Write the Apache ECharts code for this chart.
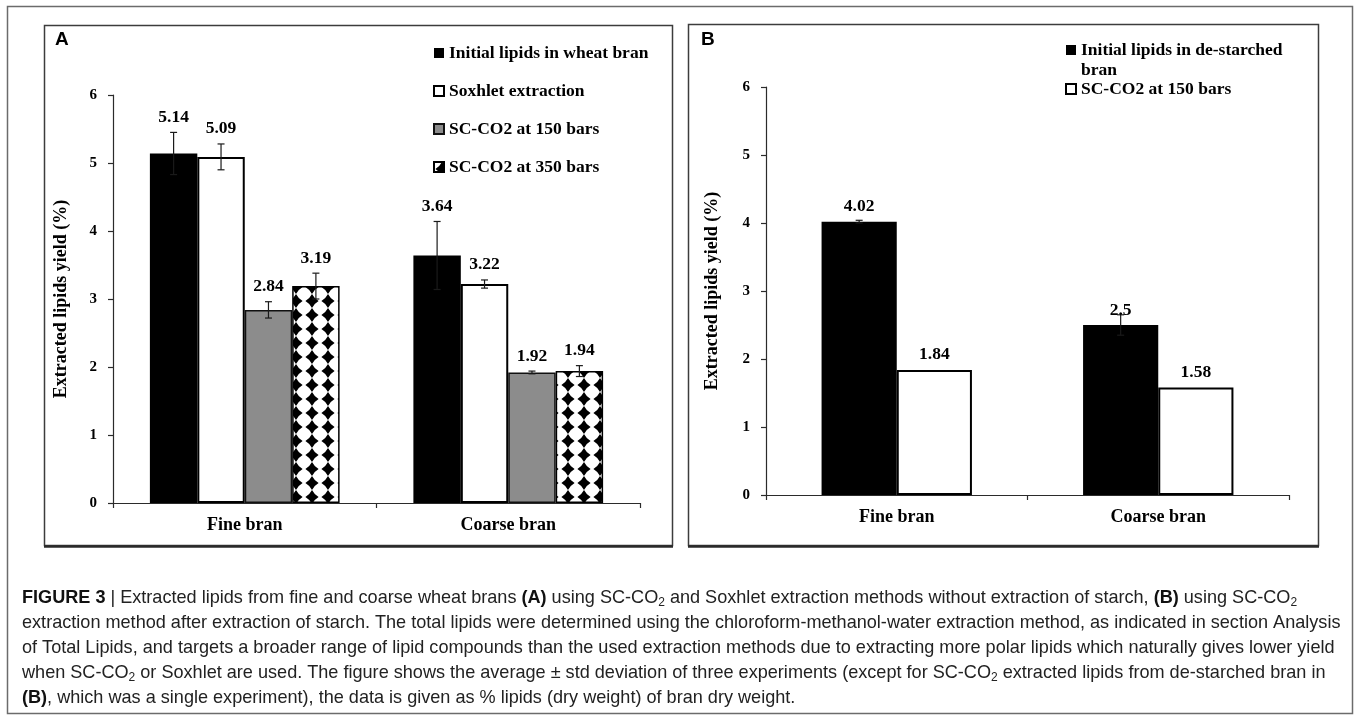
<!DOCTYPE html>
<html>
<head>
<meta charset="utf-8">
<script src="https://cdn.jsdelivr.net/npm/echarts@6/dist/echarts.min.js"></script>
<style>
  html, body { margin: 0; padding: 0; background: #ffffff; }
  #chart { width: 1357px; height: 716px; }
</style>
</head>
<body>
<div id="chart"></div>
<script>
// ---- data -------------------------------------------------------------
const categories = ['Fine bran', 'Coarse bran'];

// Panel A: wheat bran without starch removal
const namesA = ['Initial lipids in wheat bran', 'Soxhlet extraction', 'SC-CO2 at 150 bars', 'SC-CO2 at 350 bars'];
const initialWheat = [5.14, 3.64];
const soxhlet = [5.09, 3.22];
const sc150 = [2.84, 1.92];
const sc350 = [3.19, 1.94];
const errInitialWheat = [0.31, 0.50];
const errSoxhlet = [0.19, 0.06];
const errSc150 = [0.12, 0.02];
const errSc350 = [0.19, 0.08];

// Panel B: de-starched bran
const namesB = ['Initial lipids in de-starched bran', 'SC-CO2 at 150 bars (de-starched)'];
// leading blank line keeps the icon level with the first text line
const legendTextB = ['\nInitial lipids in de-starched\nbran', 'SC-CO2 at 150 bars'];
const initialDestarched = [4.02, 2.5];
const sc150Destarched = [1.84, 1.58];
const errInitialDestarched = [0.02, 0.15];
const errSc150Destarched = [null, null];

const yTickMin = 0, yTickMax = 6, yTickStep = 1;

// ---- styling helpers ---------------------------------------------------
const SERIF = '"Liberation Serif", "Times New Roman", serif';
const SANS = '"Liberation Sans", Arial, sans-serif';

// diamond-lattice fill for the 350 bar series
function diamondPattern() {
  const w = 16, h = 14;
  const c = document.createElement('canvas');
  c.width = w; c.height = h;
  const g = c.getContext('2d');
  g.fillStyle = '#ffffff';
  g.fillRect(0, 0, w, h);
  g.fillStyle = '#000000';
  const cx = w / 2, cy = h / 2, rx = 6.6, ry = 7;
  const k = 0.3;
  function ctrl(ax, ay, bx, by) {
    const mx = (ax + bx) / 2, my = (ay + by) / 2;
    return [mx + (cx - mx) * k, my + (cy - my) * k];
  }
  const pts = [[cx, cy - ry], [cx + rx, cy], [cx, cy + ry], [cx - rx, cy]];
  g.beginPath();
  g.moveTo(pts[0][0], pts[0][1]);
  for (let i = 0; i < 4; i++) {
    const a = pts[i], b = pts[(i + 1) % 4];
    const cp = ctrl(a[0], a[1], b[0], b[1]);
    g.quadraticCurveTo(cp[0], cp[1], b[0], b[1]);
  }
  g.closePath();
  g.fill();
  return { image: c, repeat: 'repeat' };
}

const styleBlack = { color: '#000000', borderColor: '#000000', borderWidth: 0 };
const styleWhite = { color: '#ffffff', borderColor: '#000000', borderWidth: 2 };
const styleGray = { color: '#8c8c8c', borderColor: '#111111', borderWidth: 1.5 };
const stylePattern = { color: diamondPattern(), borderColor: '#000000', borderWidth: 1.5 };

const GAP_A = 0.28, GAP_B = 0.425;

// error bars plus value labels, placed on the same band layout as the bars
function errorSeries(gridIdx, nBars, gapRatio, rows, labelFromErrTop) {
  return {
    type: 'custom',
    xAxisIndex: gridIdx,
    yAxisIndex: gridIdx,
    z: 10,
    silent: true,
    clip: false,
    data: rows,
    encode: { x: 0, y: 2 },
    renderItem: function (params, api) {
      const cat = api.value(0), k = api.value(1), val = api.value(2), err = api.value(3);
      const band = api.size([1, 0])[0];
      const groupW = band * (1 - gapRatio);
      const barW = groupW / nBars;
      const base = api.coord([cat, val]);
      const x = base[0] - groupW / 2 + (k + 0.5) * barW;
      const children = [];
      const hasErr = err !== null && !isNaN(err) && err > 0;
      let topY = base[1];
      if (hasErr) {
        const yHi = api.coord([cat, val + err])[1];
        const yLo = api.coord([cat, val - err])[1];
        const cap = 3.5;
        const ls = { stroke: '#1a1a1a', lineWidth: 1.2 };
        children.push({ type: 'line', shape: { x1: x, y1: yHi, x2: x, y2: yLo }, style: ls });
        children.push({ type: 'line', shape: { x1: x - cap, y1: yHi, x2: x + cap, y2: yHi }, style: ls });
        children.push({ type: 'line', shape: { x1: x - cap, y1: yLo, x2: x + cap, y2: yLo }, style: ls });
        if (labelFromErrTop) topY = yHi;
      }
      children.push({
        type: 'text',
        style: {
          text: String(val),
          x: x,
          y: topY - 15,
          align: 'center',
          verticalAlign: 'middle',
          font: 'bold 17.5px ' + SERIF,
          fill: '#000000'
        }
      });
      return { type: 'group', children: children };
    }
  };
}

function rowsFor(seriesList) {
  const rows = [];
  seriesList.forEach(function (s, k) {
    s.values.forEach(function (v, c) {
      rows.push([c, k, v, s.err[c] === null ? NaN : s.err[c]]);
    });
  });
  return rows;
}

const axisLineStyle = { color: '#2b2b2b', width: 1.2 };
const tickLabel = { fontFamily: SERIF, fontWeight: 'bold', fontSize: 15, color: '#000000', margin: 16 };
const catLabel = { fontFamily: SERIF, fontWeight: 'bold', fontSize: 18, color: '#000000', margin: 13 };
const yName = 'Extracted lipids yield (%)';
const yNameStyle = { fontFamily: SERIF, fontWeight: 'bold', fontSize: 18, color: '#000000' };

function yAxisFor(gridIdx, gap) {
  return {
    type: 'value', gridIndex: gridIdx,
    min: yTickMin, max: yTickMax, interval: yTickStep,
    name: yName, nameLocation: 'middle', nameGap: gap, nameRotate: 90,
    nameTextStyle: yNameStyle,
    axisLine: { show: true, lineStyle: axisLineStyle },
    axisTick: { show: true, length: 5, lineStyle: axisLineStyle },
    axisLabel: tickLabel,
    splitLine: { show: false }
  };
}
function xAxisFor(gridIdx) {
  return {
    type: 'category', gridIndex: gridIdx, data: categories,
    axisLine: { show: true, lineStyle: axisLineStyle },
    axisTick: { show: true, length: 5, lineStyle: axisLineStyle },
    axisLabel: catLabel,
    splitLine: { show: false }
  };
}

const barsA = [
  { name: namesA[0], values: initialWheat, err: errInitialWheat, style: styleBlack },
  { name: namesA[1], values: soxhlet, err: errSoxhlet, style: styleWhite },
  { name: namesA[2], values: sc150, err: errSc150, style: styleGray },
  { name: namesA[3], values: sc350, err: errSc350, style: stylePattern }
];
const barsB = [
  { name: namesB[0], values: initialDestarched, err: errInitialDestarched, style: styleBlack },
  { name: namesB[1], values: sc150Destarched, err: errSc150Destarched, style: styleWhite }
];

const series = [];
barsA.forEach(function (s) {
  series.push({
    type: 'bar', name: s.name, xAxisIndex: 0, yAxisIndex: 0,
    data: s.values, itemStyle: s.style,
    barGap: '0%', barCategoryGap: (GAP_A * 100) + '%',
    emphasis: { disabled: true }
  });
});
barsB.forEach(function (s) {
  series.push({
    type: 'bar', name: s.name, xAxisIndex: 1, yAxisIndex: 1,
    data: s.values, itemStyle: s.style,
    barGap: '0%', barCategoryGap: (GAP_B * 100) + '%',
    emphasis: { disabled: true }
  });
});
series.push(errorSeries(0, barsA.length, GAP_A, rowsFor(barsA), true));
series.push(errorSeries(1, barsB.length, GAP_B, rowsFor(barsB), false));

const legendText = { fontFamily: SERIF, fontWeight: 'bold', fontSize: 17.5, color: '#000000', lineHeight: 20 };

// caption lines (rich text: b = bold, s = subscript)
const captionLines = [
  '{b|FIGURE 3} | Extracted lipids from fine and coarse wheat brans {b|(A)} using SC-CO{s|2} and Soxhlet extraction methods without extraction of starch, {b|(B)} using SC-CO{s|2}',
  'extraction method after extraction of starch. The total lipids were determined using the chloroform-methanol-water extraction method, as indicated in section Analysis',
  'of Total Lipids, and targets a broader range of lipid compounds than the used extraction methods due to extracting more polar lipids which naturally gives lower yield',
  'when SC-CO{s|2} or Soxhlet are used. The figure shows the average \u00b1 std deviation of three experiments (except for SC-CO{s|2} extracted lipids from de-starched bran in',
  '{b|(B)}, which was a single experiment), the data is given as % lipids (dry weight) of bran dry weight.'
];
const captionY = [598, 623, 648, 673, 698];

const graphics = [
  { type: 'rect', shape: { x: 7.5, y: 6.5, width: 1345, height: 707 }, style: { fill: null, stroke: '#6b6b6b', lineWidth: 1.5 }, silent: true, z: 0 },
  { type: 'rect', shape: { x: 44.5, y: 25.5, width: 628, height: 520 }, style: { fill: null, stroke: '#3c3c3c', lineWidth: 1.5 }, silent: true, z: 0 },
  { type: 'line', shape: { x1: 44, y1: 546.5, x2: 673, y2: 546.5 }, style: { stroke: '#2a2a2a', lineWidth: 2.5 }, silent: true, z: 0 },
  { type: 'rect', shape: { x: 688.5, y: 24.5, width: 630, height: 521 }, style: { fill: null, stroke: '#3c3c3c', lineWidth: 1.5 }, silent: true, z: 0 },
  { type: 'line', shape: { x1: 688, y1: 546.5, x2: 1319, y2: 546.5 }, style: { stroke: '#2a2a2a', lineWidth: 2.5 }, silent: true, z: 0 },
  { type: 'text', x: 55, y: 40, style: { text: 'A', font: 'bold 19px ' + SANS, fill: '#000000', verticalAlign: 'middle' }, silent: true },
  { type: 'text', x: 701, y: 40, style: { text: 'B', font: 'bold 19px ' + SANS, fill: '#000000', verticalAlign: 'middle' }, silent: true }
];
captionLines.forEach(function (line, i) {
  graphics.push({
    type: 'text', x: 22, y: captionY[i], silent: true,
    style: {
      text: line,
      fontFamily: SANS, fontSize: 18.1, fill: '#222222',
      verticalAlign: 'middle', lineHeight: 22,
      rich: {
        b: { fontFamily: SANS, fontSize: 18.1, fontWeight: 'bold', fill: '#111111', lineHeight: 22 },
        s: { fontFamily: SANS, fontSize: 12, fill: '#222222', lineHeight: 8, verticalAlign: 'bottom' }
      }
    }
  });
});

const option = {
  animation: false,
  backgroundColor: '#ffffff',
  grid: [
    { left: 113, top: 95, width: 527, height: 408, containLabel: false },
    { left: 766, top: 87, width: 523, height: 408, containLabel: false }
  ],
  xAxis: [xAxisFor(0), xAxisFor(1)],
  yAxis: [yAxisFor(0, 43), yAxisFor(1, 45)],
  legend: [
    {
      data: namesA.map(function (n) { return { name: n }; }),
      orient: 'vertical', left: 433, top: 43, padding: 0,
      itemWidth: 10, itemHeight: 10, itemGap: 18, icon: 'rect',
      textStyle: legendText, selectedMode: false
    },
    {
      data: namesB.map(function (n) { return { name: n }; }),
      formatter: function (name) { return legendTextB[namesB.indexOf(name)]; },
      orient: 'vertical', left: 1065, top: 20, padding: 0,
      itemWidth: 10, itemHeight: 10, itemGap: -1, icon: 'rect',
      textStyle: legendText, selectedMode: false
    }
  ],
  graphic: graphics,
  series: series
};

const chart = echarts.init(document.getElementById('chart'), null, { renderer: 'canvas' });
chart.setOption(option);
</script>
</body>
</html>
